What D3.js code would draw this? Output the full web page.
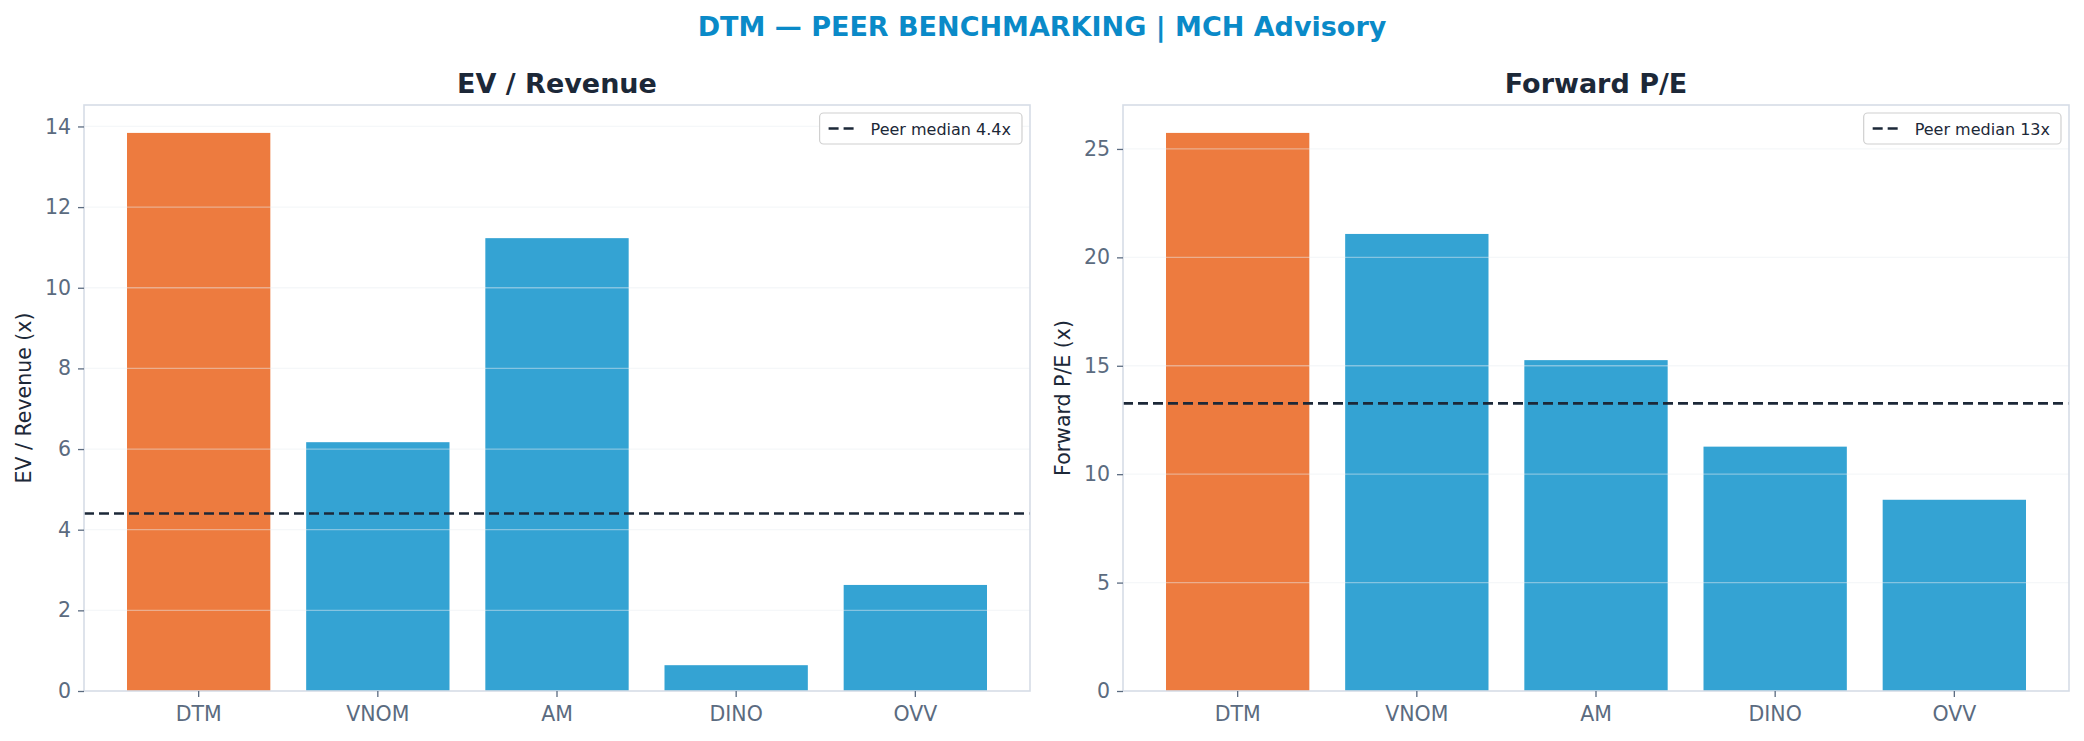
<!DOCTYPE html>
<html>
<head>
<meta charset="utf-8">
<script src="https://cdn.jsdelivr.net/npm/d3@7"></script>
<style>
body{margin:0;background:#fff;}
text{font-family:"DejaVu Sans",sans-serif;}
</style>
</head>
<body>
<svg id="chart" width="2084" height="741"></svg>
<script>
var tickers = ["DTM","VNOM","AM","DINO","OVV"]
var evRevenue = [13.84,6.17,11.23,0.64,2.63]
var fwdPE = [25.74,21.08,15.26,11.27,8.82]
var evTicks = [0,2,4,6,8,10,12,14]
var peTicks = [0,5,10,15,20,25]
var subject = "DTM"

var orange = "#ED7B3F", blue = "#34A3D3", navy = "#1C2838", slate = "#5B6B80", spine = "#D6DDE6"

var svg = d3.select("#chart")
svg.append("rect").attr("width",2084).attr("height",741).attr("fill","#fff")

svg.append("text").attr("x",1042).attr("y",36).attr("text-anchor","middle")
	.attr("font-size",27).attr("font-weight","bold").attr("fill","#0A8AC8")
	.text("DTM \u2014 PEER BENCHMARKING | MCH Advisory")

function panel(x0,x1,title,ylabel,values,ticks,legendFmt){
	var top = 105, bottom = 691
	var g = svg.append("g")
	var x = d3.scaleBand().domain(tickers).range([x0,x1]).paddingInner(0.2).paddingOuter(0.24)
	var y = d3.scaleLinear().domain([0,d3.max(values)*1.05]).range([bottom,top])

	// bars
	g.selectAll(".bar").data(values).enter().append("rect")
		.attr("x",function(d,i){return x(tickers[i])})
		.attr("width",x.bandwidth())
		.attr("y",function(d){return y(d)})
		.attr("height",function(d){return bottom-y(d)})
		.attr("fill",function(d,i){return tickers[i]==subject ? orange:blue})

	// grid on top of bars
	g.selectAll(".grid").data(ticks.slice(1)).enter().append("line")
		.attr("x1",x0).attr("x2",x1)
		.attr("y1",function(d){return y(d)}).attr("y2",function(d){return y(d)})
		.attr("stroke","#e9edf2").attr("stroke-opacity",0.45).attr("stroke-width",1.3)

	// peer median
	var med = d3.median(values.filter(function(d,i){return tickers[i]!=subject}))
	g.append("line").attr("x1",x0).attr("x2",x1).attr("y1",y(med)).attr("y2",y(med))
		.attr("stroke",navy).attr("stroke-width",2.6).attr("stroke-dasharray","10,5")

	// frame
	g.append("rect").attr("x",x0).attr("y",top).attr("width",x1-x0).attr("height",bottom-top)
		.attr("fill","none").attr("stroke",spine).attr("stroke-width",1.6)

	// y axis
	var yAxis = g.append("g").attr("transform","translate("+x0+",0)")
		.call(d3.axisLeft(y).tickValues(ticks).tickSize(6).tickPadding(7).tickFormat(d3.format("d")))
	yAxis.select(".domain").remove()
	yAxis.selectAll("line").attr("stroke",slate).attr("stroke-width",1.3)
	yAxis.selectAll("text").attr("fill",slate).attr("font-size",20.5).attr("font-family","DejaVu Sans")

	// x axis
	var xAxis = g.append("g").attr("transform","translate(0,"+bottom+")")
		.call(d3.axisBottom(x).tickSize(6).tickPadding(9))
	xAxis.select(".domain").remove()
	xAxis.selectAll("line").attr("stroke",slate).attr("stroke-width",1.3)
	xAxis.selectAll("text").attr("fill",slate).attr("font-size",20.5).attr("font-family","DejaVu Sans")

	// titles
	g.append("text").attr("x",(x0+x1)/2).attr("y",93).attr("text-anchor","middle")
		.attr("font-size",27).attr("font-weight","bold").attr("fill",navy).text(title)
	g.append("text").attr("transform","translate("+(x0-53)+","+((top+bottom)/2)+") rotate(-90)")
		.attr("text-anchor","middle").attr("font-size",20.5).attr("fill",navy).text(ylabel)

	// legend
	var label = "Peer median " + legendFmt(med) + "x"
	var lg = g.append("g")
	var txt = lg.append("text").attr("font-size",16).attr("fill",navy).text(label)
	var tw = txt.node().getComputedTextLength()
	var bw = tw + 62, bh = 31
	var bx = x1 - 8 - bw, by = top + 8
	lg.insert("rect","text").attr("x",bx).attr("y",by).attr("width",bw).attr("height",bh)
		.attr("rx",4).attr("fill","#fff").attr("stroke","#d0d0d0").attr("stroke-width",1.2)
	lg.append("line").attr("x1",bx+9).attr("x2",bx+38).attr("y1",by+bh/2).attr("y2",by+bh/2)
		.attr("stroke",navy).attr("stroke-width",2.6).attr("stroke-dasharray","10,5")
	txt.attr("x",bx+51).attr("y",by+bh/2+6)
}

panel(84,1030,"EV / Revenue","EV / Revenue (x)",evRevenue,evTicks,d3.format(".1f"))
panel(1123,2069,"Forward P/E","Forward P/E (x)",fwdPE,peTicks,d3.format(".0f"))
</script>
</body>
</html>
